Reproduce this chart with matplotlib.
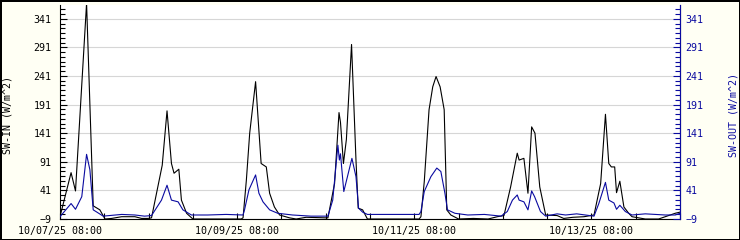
"""
plot.py - SW-IN / SW-OUT radiation, one week of station data.
"""
import numpy as np
import matplotlib
matplotlib.use('Agg')
import matplotlib.pyplot as plt
import matplotlib.dates as mdates
from matplotlib.ticker import FixedLocator, AutoMinorLocator


# ── Data (hours after 10/07/25 08:00, W/m^2) ─────────────────────────────────

start = np.datetime64('2025-10-07T08:00')

sw_in_hours = [0, 3.0, 4.2, 7.2, 9.0, 10.8, 12.2, 14, 16.7, 20.3, 22.1, 23.9, 24.8,
               27.7, 29.0, 30.2, 30.9, 32.2, 32.9, 34.3, 36.0, 42.0, 49.1,
               49.6, 50.5, 51.4, 53.0, 54.5, 55.9, 56.8, 58.1, 59.5, 62.2, 64.0, 66.7, 72.1,
               72.6, 74.4, 75.6, 76.0, 76.8, 77.6, 79.0, 80.2, 80.8, 82.0, 83.3, 90.0, 97.3,
               97.8, 98.7, 100.0, 101.0, 101.9, 103.0, 104.1, 104.8, 105.9, 108.0, 112.0, 116.0, 118.5, 120.3,
               122.1, 123.9, 124.4, 125.7, 126.8, 127.8, 128.7, 130.0, 131.6, 134.7, 136.5, 139.0, 142.0, 144.7,
               146.5, 147.8, 148.7, 149.4, 150.3, 150.8, 151.7, 152.8, 154.1, 155.0, 158.6, 162.2, 164.0, 166.7, 168.0]
sw_in_vals = [-5, 72, 40, 368, 14, 7, -9, -8, -5, -5, -8, -8, -7,
              85, 180, 88, 71, 78, 24, 1, -9, -9, -9,
              -7, 59, 141, 231, 88, 82, 36, 12, -2, -7, -9, -6, -7,
              -7, 53, 177, 160, 88, 130, 296, 94, 10, 7, -9, -9, -9,
              -5, 56, 182, 222, 240, 222, 182, 7, -2, -9, -8, -9, -5, -3,
              47, 106, 94, 97, 36, 152, 141, 47, -2, -3, -8, -6, -5, -2,
              53, 174, 88, 82, 82, 37, 57, 12, 1, -5, -9, -9, -5, 1, 3]

sw_out_hours = [0, 3.0, 4.2, 5.9, 7.2, 8.1, 9.0, 10.0, 11.7, 16.7, 20.3, 22.9, 24.8,
                27.5, 29.0, 30.2, 32.0, 33.3, 35.6, 40.0, 45.0, 49.6,
                50.0, 51.2, 53.0, 53.9, 55.0, 56.8, 59.0, 63.0, 68.0, 72.6,
                73.9, 75.3, 75.7, 76.0, 76.9, 79.1, 80.2, 80.9, 82.0, 83.3, 90.0, 97.3,
                97.8, 98.7, 100.5, 102.1, 103.2, 104.3, 105.0, 107.0, 110.5, 115.0, 119.5, 121.2,
                122.6, 123.9, 124.4, 125.7, 126.8, 127.8, 128.6, 130.2, 131.6, 134.7, 137.0, 140.0, 144.7,
                146.0, 147.8, 148.7, 150.1, 150.8, 151.7, 153.2, 155.0, 158.6, 164.0, 166.7, 168.0]
sw_out_vals = [-5, 18, 8, 30, 104, 77, 7, 3, -4, -1, -2, -4, -3,
               24, 50, 24, 21, 7, -2, -2, -1, -2,
               7, 42, 68, 36, 21, 7, 1, -2, -4, -4,
               24, 120, 94, 105, 39, 97, 65, 10, 3, -1, -1, -1,
               4, 39, 65, 80, 74, 36, 7, 1, -2, -1, -4, 4,
               24, 33, 24, 21, 7, 40, 30, 4, -4, 0, -2, 0, -4,
               18, 55, 24, 19, 8, 15, 4, -2, 0, -2, -2, 1]

y_ticks = [-9, 41, 91, 141, 191, 241, 291, 341]
major_hours = [0, 48, 96, 144]


def to_time(hours):
    sec = (np.asarray(hours) * 3600).astype('timedelta64[s]')
    return start + sec


# ── Plot ─────────────────────────────────────────────────────────────────────

BG = '#fffff4'
BLUE = '#0a0aa0'
FONT = 'DejaVu Sans Mono'
FS = 7.2

fig = plt.figure(figsize=(7.4, 2.4), dpi=100, facecolor=BG,
                 edgecolor='black', linewidth=1.0)
ax = fig.add_axes([60 / 740, 21 / 240, 620 / 740, 214 / 240])
ax.set_facecolor('white')

ax.plot(to_time(sw_in_hours), sw_in_vals, color='black', lw=0.8, zorder=3)
ax2 = ax.twinx()
ax2.plot(to_time(sw_out_hours), sw_out_vals, color=BLUE, lw=0.8, zorder=3)

ax.set_xlim(to_time([0])[0], to_time([168])[0])
for a in (ax, ax2):
    a.set_ylim(-9, 365)
    a.set_yticks(y_ticks)
    a.yaxis.set_minor_locator(AutoMinorLocator(6))
    a.spines['top'].set_visible(False)

ax.grid(True, axis='y', color='#d6d6d6', lw=0.8, zorder=0)
ax.set_axisbelow(True)

ax.xaxis.set_major_locator(FixedLocator(mdates.date2num(to_time(major_hours))))
ax.xaxis.set_minor_locator(FixedLocator(mdates.date2num(to_time(np.arange(0, 169, 12)))))
ax.xaxis.set_major_formatter(mdates.DateFormatter('%m/%d/%y %H:%M'))

ax.tick_params(axis='x', which='both', direction='in', length=4, width=0.8,
               pad=5, labelsize=FS)
ax.tick_params(axis='y', which='major', direction='in', length=5, width=0.8,
               pad=6, labelsize=FS)
ax.tick_params(axis='y', which='minor', direction='in', length=3.5, width=0.8)
ax2.tick_params(axis='y', which='major', direction='in', length=5, width=0.8,
                pad=4, labelsize=FS, colors=BLUE)
ax2.tick_params(axis='y', which='minor', direction='in', length=3.5, width=0.8,
                colors=BLUE)
ax2.spines['right'].set_color(BLUE)
ax2.spines['left'].set_visible(False)
ax2.spines['bottom'].set_visible(False)

for lab in ax.get_xticklabels() + ax.get_yticklabels() + ax2.get_yticklabels():
    lab.set_fontfamily(FONT)

fig.text(8 / 740, 1 - 115 / 240, 'SW-IN (W/m^2)', rotation=90,
         ha='center', va='center', fontsize=FS, family=FONT, color='black')
fig.text(733 / 740, 1 - 115 / 240, 'SW-OUT (W/m^2)', rotation=90,
         ha='center', va='center', fontsize=FS, family=FONT, color=BLUE)

fig.savefig('out.png', dpi=100, facecolor=BG)
